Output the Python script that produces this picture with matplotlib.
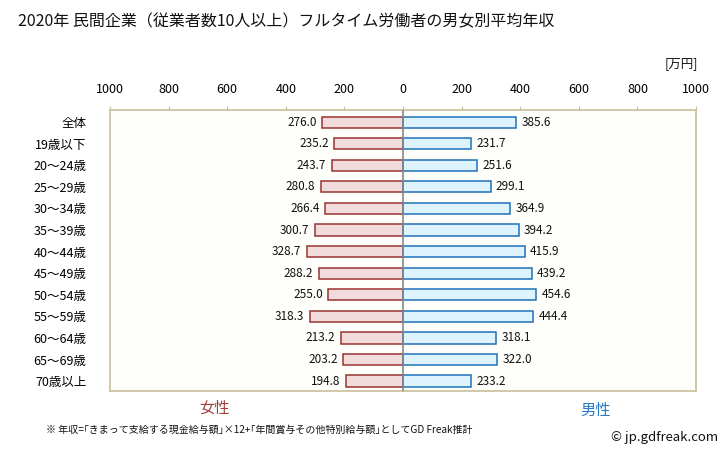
import matplotlib
matplotlib.use("Agg")
import matplotlib.pyplot as plt

plt.rcParams['font.family'] = ['Noto Sans CJK JP', 'DejaVu Sans']

categories = ['全体', '19歳以下', '20〜24歳', '25〜29歳', '30〜34歳', '35〜39歳', '40〜44歳',
              '45〜49歳', '50〜54歳', '55〜59歳', '60〜64歳', '65〜69歳', '70歳以上']
female = [276.0, 235.2, 243.7, 280.8, 266.4, 300.7, 328.7, 288.2, 255.0, 318.3, 213.2, 203.2, 194.8]
male = [385.6, 231.7, 251.6, 299.1, 364.9, 394.2, 415.9, 439.2, 454.6, 444.4, 318.1, 322.0, 233.2]
ticks = [-1000, -800, -600, -400, -200, 0, 200, 400, 600, 800, 1000]

fig = plt.figure(figsize=(7.28, 4.51), dpi=100)
ax = fig.add_axes([0.1511, 0.133, 0.805, 0.623])
ax.set_facecolor('#fefefb')

y = list(range(len(categories)))
neg_female = [-v for v in female]
ax.barh(y, neg_female, height=0.52, color='#f2dcdb', edgecolor='#993333', linewidth=1.1, zorder=2)
ax.barh(y, male, height=0.52, color='#ddf3fd', edgecolor='#1f72b8', linewidth=1.1, zorder=2)
ax.axvline(0, color='#888888', linewidth=1.2, zorder=3)

for i, v in enumerate(female):
    ax.text(-v - 18, i, f'{v:.1f}', ha='right', va='center', fontsize=8.5, color='#111111')
for i, v in enumerate(male):
    ax.text(v + 18, i, f'{v:.1f}', ha='left', va='center', fontsize=8.5, color='#111111')

ax.set_xlim(-1000, 1000)
ax.set_ylim(12.46, -0.56)
ax.set_yticks(y)
ax.set_yticklabels(categories, fontsize=9)
ax.tick_params(axis='y', length=0, pad=17)
ax.xaxis.tick_top()
ax.set_xticks(ticks)
ax.set_xticklabels([str(abs(t)) for t in ticks], fontsize=9)
ax.tick_params(axis='x', length=3, color='#c8bf9a', pad=7)
for s in ax.spines.values():
    s.set_color('#c8bf9a')
    s.set_linewidth(1.2)

fig.text(18 / 728, 1 - 22 / 451, '2020年 民間企業（従業者数10人以上）フルタイム労働者の男女別平均年収',
         fontsize=11.5, va='center', ha='left', color='#111111')
fig.text(698 / 728, 1 - 64 / 451, '[万円]', fontsize=9, va='center', ha='right', color='#111111')
fig.text(214 / 728, 1 - 408 / 451, '女性', fontsize=11, va='center', ha='center', color='#a0403c')
fig.text(596 / 728, 1 - 410 / 451, '男性', fontsize=11, va='center', ha='center', color='#2a7ac4')
fig.text(46 / 728, 1 - 430 / 451,
         '※ 年収=｢きまって支給する現金給与額｣×12+｢年間賞与その他特別給与額｣としてGD Freak推計',
         fontsize=7.2, va='center', ha='left', color='#111111')
fig.text(718 / 728, 1 - 437 / 451, '© jp.gdfreak.com', fontsize=9.5, va='center', ha='right', color='#111111')

fig.savefig('out.png', dpi=100)
